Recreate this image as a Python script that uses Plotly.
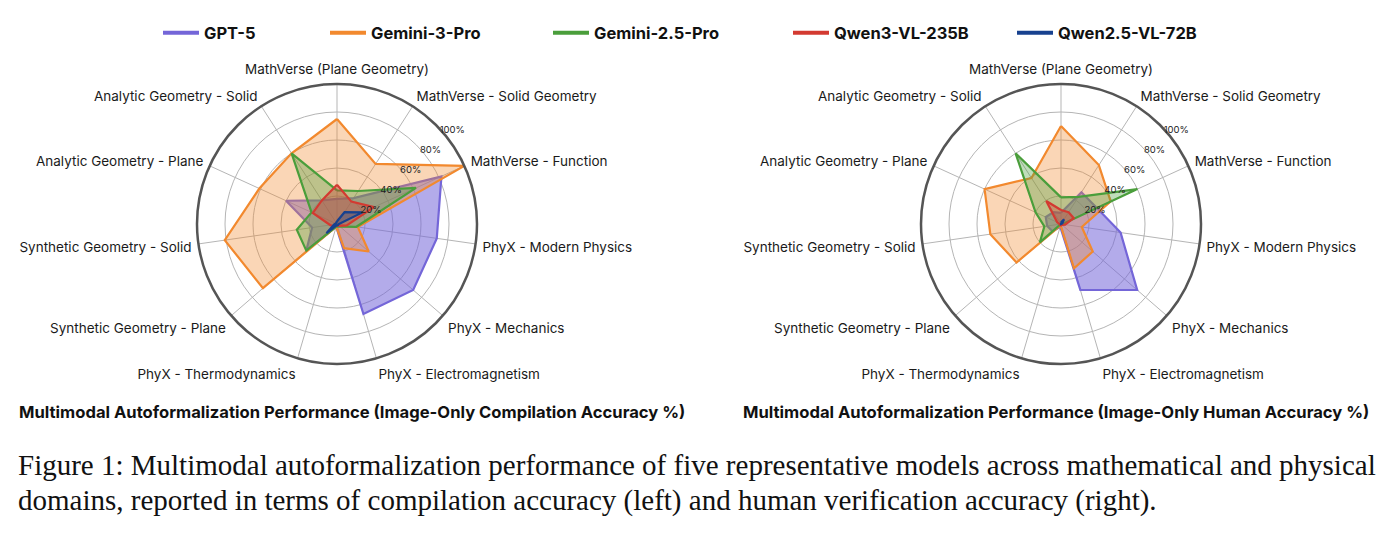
import plotly.graph_objects as go

categories = [
    "MathVerse (Plane Geometry)", "MathVerse - Solid Geometry", "MathVerse - Function",
    "PhyX - Modern Physics", "PhyX - Mechanics", "PhyX - Electromagnetism",
    "PhyX - Thermodynamics", "Synthetic Geometry - Plane", "Synthetic Geometry - Solid",
    "Analytic Geometry - Plane", "Analytic Geometry - Solid",
]
models = ["GPT-5", "Gemini-3-Pro", "Gemini-2.5-Pro", "Qwen3-VL-235B", "Qwen2.5-VL-72B"]

# Compilation accuracy (left)
gpt5_comp = [18, 22, 82, 72, 72, 67, 2, 29, 18, 40, 20]
gem3_comp = [75, 51, 100, 15, 30, 18, 2, 70, 81, 61, 60]
gem25_comp = [24, 28, 62, 14, 3, 2, 2, 29, 29, 20, 60]
qwen3_comp = [28, 19, 29, 7, 2, 1, 1, 3, 5, 19, 20]
qwen25_comp = [2, 10, 20, 1, 1, 1, 1, 10, 2, 1, 1]

# Human accuracy (right)
gpt5_hum = [8, 27, 28, 43, 72, 49, 2, 8, 10, 12, 10]
gem3_hum = [70, 50, 39, 15, 30, 33, 1, 42, 51, 60, 39]
gem25_hum = [19, 23, 60, 1, 0, 0, 0, 20, 12, 20, 60]
qwen3_hum = [10, 10, 10, 3, 1, 1, 1, 1, 1, 3, 19.5]
qwen25_hum = [1, 4, 1, 0, 0, 0, 0, 0, 0, 0, 0]

radial_ticks = [20, 40, 60, 80, 100]
radial_ticktext = ["20%", "40%", "60%", "80%", "100%"]

line_colors = ["#7466d8", "#f2892e", "#4a9e3b", "#d33a31", "#17418f"]
fill_colors = ["rgba(116,102,216,0.55)", "rgba(242,137,46,0.35)", "rgba(74,158,59,0.35)",
               "rgba(211,58,49,0.35)", "rgba(23,65,143,0.35)"]

comp = [gpt5_comp, gem3_comp, gem25_comp, qwen3_comp, qwen25_comp]
hum = [gpt5_hum, gem3_hum, gem25_hum, qwen3_hum, qwen25_hum]

fig = go.Figure()
for subplot, data in (("polar", comp), ("polar2", hum)):
    for i, vals in enumerate(data):
        fig.add_trace(go.Scatterpolar(
            r=vals + [vals[0]], theta=categories + [categories[0]],
            mode="lines", fill="toself", fillcolor=fill_colors[i],
            line=dict(color=line_colors[i], width=2.2),
            subplot=subplot, showlegend=False, hoverinfo="skip",
        ))

# legend entries (one legend per model, positioned like the reference)
legend_x = [163, 330, 553, 793, 1017]
for i, m in enumerate(models):
    lname = "legend" if i == 0 else f"legend{i+1}"
    fig.add_trace(go.Scatterpolar(
        r=[None], theta=[categories[0]], mode="lines", name=m,
        line=dict(color=line_colors[i], width=4), subplot="polar",
        showlegend=True, legend=lname,
    ))

W, H = 1393, 537
R = 140
def dom(cx, cy):
    return dict(x=[(cx - R) / W, (cx + R) / W], y=[1 - (cy + R) / H, 1 - (cy - R) / H])

def polar_layout(cx, cy):
    return dict(
        domain=dom(cx, cy), bgcolor="white",
        angularaxis=dict(direction="clockwise", rotation=90, showline=True,
                         linecolor="#555555", linewidth=2.5, gridcolor="#b5b5b5",
                         gridwidth=1, ticks="outside", ticklen=3, tickcolor="rgba(0,0,0,0)",
                         tickfont=dict(family="Inter", size=13.5, color="#1a1a1a")),
        radialaxis=dict(range=[0, 100], tickvals=radial_ticks, ticktext=radial_ticktext,
                        angle=45, tickangle=45, side="clockwise", showline=False,
                        gridcolor="#b5b5b5", gridwidth=1,
                        ticks="", tickfont=dict(family="Inter", size=9.5, color="#222")),
    )

layout = dict(
    width=W, height=H, margin=dict(l=0, r=0, t=0, b=0),
    paper_bgcolor="white", plot_bgcolor="white",
    polar=polar_layout(337, 224), polar2=polar_layout(1061, 224),
    font=dict(family="Inter", color="#111"),
)
for i in range(5):
    lname = "legend" if i == 0 else f"legend{i+1}"
    layout[lname] = dict(x=(legend_x[i] - 5) / W, y=1 - 33 / H, xanchor="left", yanchor="middle",
                         orientation="h", bgcolor="rgba(0,0,0,0)",
                         font=dict(family="Inter", size=16.5, color="#111", weight="bold"),
                         itemwidth=36)
fig.update_layout(**layout)

fig.add_annotation(x=352 / W, y=1 - 412 / H, xref="paper", yref="paper", showarrow=False,
                   xanchor="center", yanchor="middle",
                   text="<b>Multimodal Autoformalization Performance (Image-Only Compilation Accuracy %)</b>",
                   font=dict(family="Inter", size=16.6, color="#111"))
fig.add_annotation(x=1056 / W, y=1 - 412 / H, xref="paper", yref="paper", showarrow=False,
                   xanchor="center", yanchor="middle",
                   text="<b>Multimodal Autoformalization Performance (Image-Only Human Accuracy %)</b>",
                   font=dict(family="Inter", size=16.6, color="#111"))
fig.add_annotation(x=16 / W, y=1 - 465 / H, xref="paper", yref="paper", showarrow=False,
                   xanchor="left", yanchor="middle",
                   text="Figure 1: Multimodal autoformalization performance of five representative models across mathematical and physical",
                   font=dict(family="Liberation Serif", size=29, color="#111"))
fig.add_annotation(x=16 / W, y=1 - 500 / H, xref="paper", yref="paper", showarrow=False,
                   xanchor="left", yanchor="middle",
                   text="domains, reported in terms of compilation accuracy (left) and human verification accuracy (right).",
                   font=dict(family="Liberation Serif", size=29, color="#111"))

fig.write_html("out.html")
